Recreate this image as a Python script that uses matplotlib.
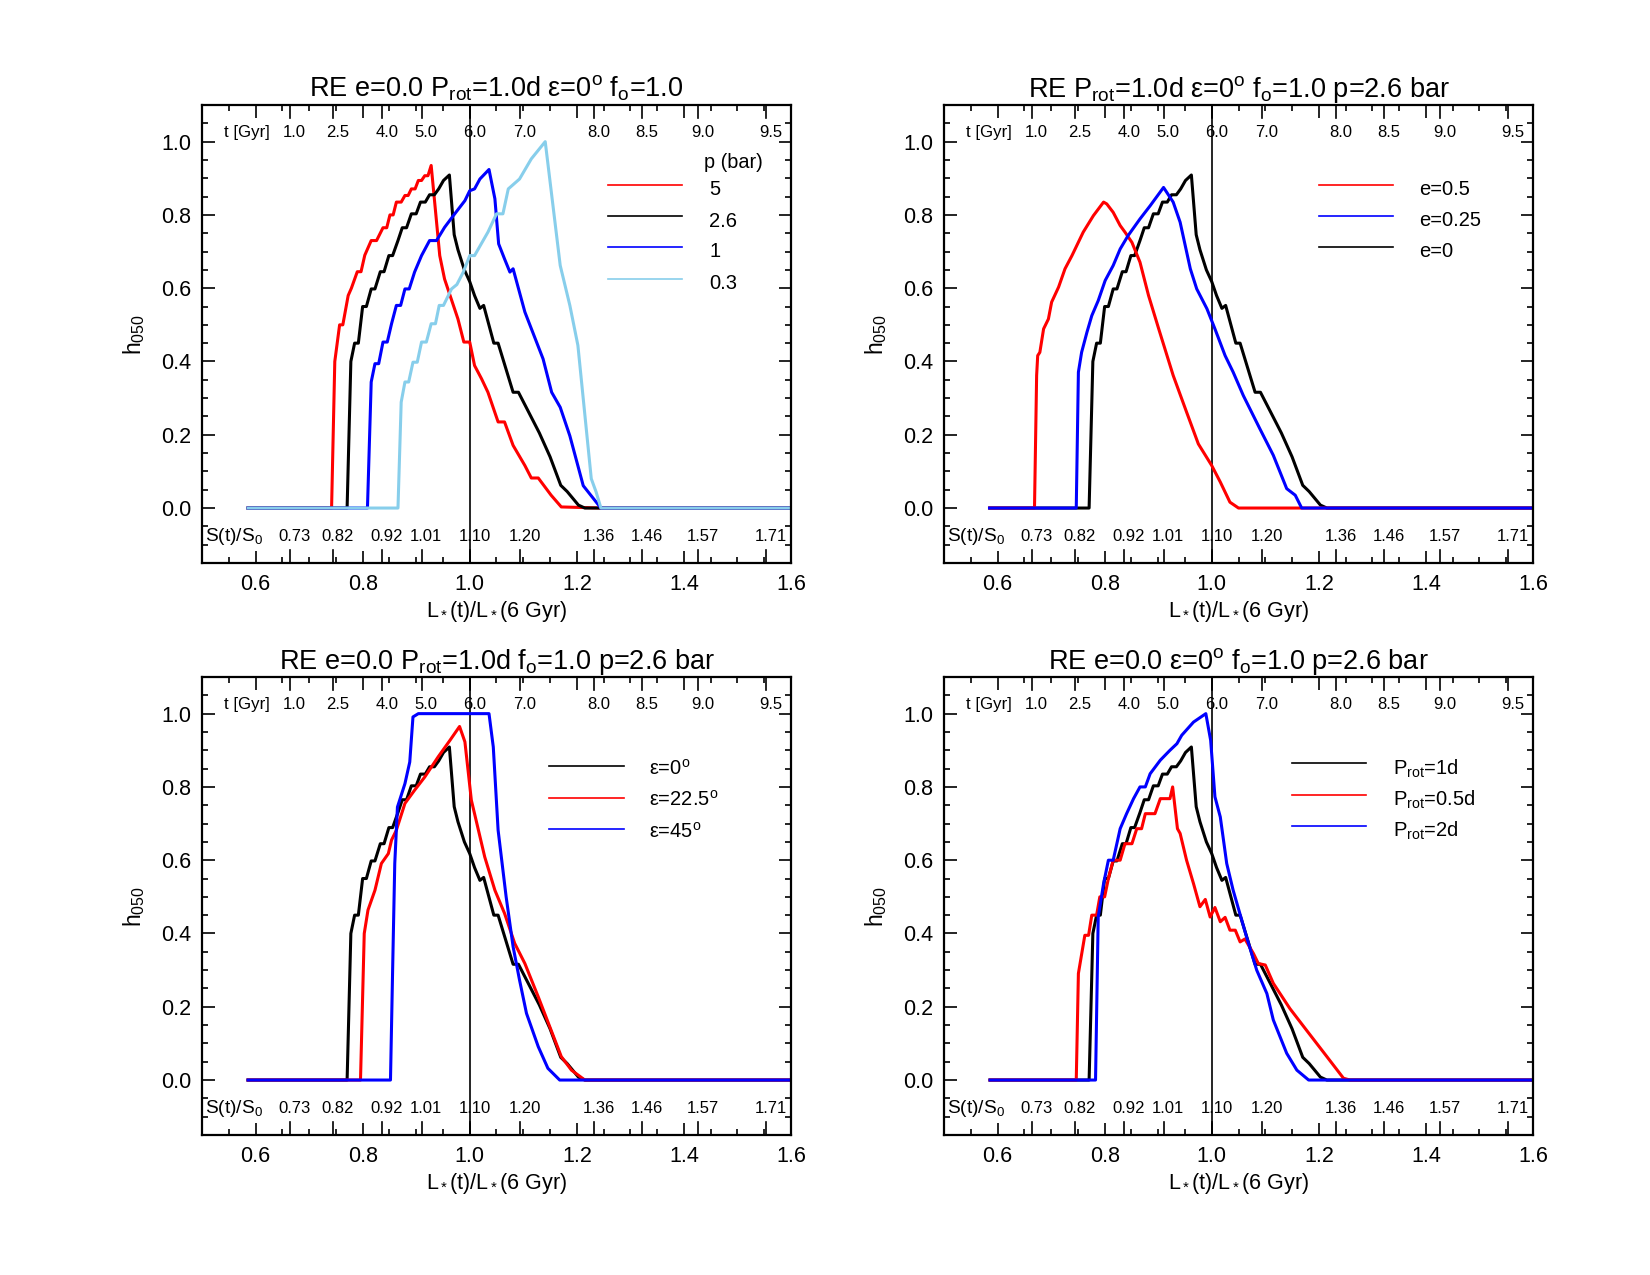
import numpy as np
import matplotlib
matplotlib.use("Agg")
import matplotlib.pyplot as plt
from matplotlib.ticker import MultipleLocator, FormatStrFormatter

plt.rcParams['font.family'] = ['Liberation Sans', 'DejaVu Sans']
plt.rcParams['mathtext.fontset'] = 'custom'
plt.rcParams['mathtext.rm'] = 'Liberation Sans'
plt.rcParams['mathtext.it'] = 'Liberation Sans:italic'
plt.rcParams['mathtext.bf'] = 'Liberation Sans:bold'

# reference case (e=0, Prot=1d, eps=0, fo=1, p=2.6 bar) -- black in every panel
ref_x = [0.586, 0.771, 0.778, 0.785, 0.792, 0.800, 0.807, 0.816, 0.823, 0.833, 0.840, 0.849, 0.856, 0.866,
         0.874, 0.882, 0.891, 0.900, 0.908, 0.917, 0.925, 0.934, 0.942, 0.951, 0.962, 0.971, 0.978, 0.990,
         1.000, 1.009, 1.019, 1.026, 1.045, 1.053, 1.081, 1.091, 1.110, 1.130, 1.150, 1.170, 1.182, 1.203,
         1.215, 1.6]
ref_y = [0, 0, 0.40, 0.45, 0.45, 0.55, 0.55, 0.598, 0.598, 0.645, 0.645, 0.689, 0.689, 0.73,
         0.765, 0.765, 0.803, 0.803, 0.835, 0.835, 0.855, 0.855, 0.871, 0.894, 0.909, 0.746, 0.705, 0.65,
         0.618, 0.58, 0.545, 0.553, 0.45, 0.45, 0.316, 0.316, 0.262, 0.205, 0.14, 0.062, 0.045, 0.008,
         0.0, 0.0]

# panel 1: pressure
p5_x = [0.586, 0.742, 0.748, 0.757, 0.763, 0.773, 0.779, 0.790, 0.797, 0.804, 0.816, 0.826, 0.838, 0.845,
        0.851, 0.857, 0.863, 0.872, 0.879, 0.885, 0.891, 0.898, 0.904, 0.910, 0.916, 0.922, 0.928, 0.944,
        0.953, 0.978, 0.989, 1.000, 1.009, 1.022, 1.034, 1.053, 1.065, 1.081, 1.103, 1.115, 1.128, 1.152,
        1.171, 1.246, 1.6]
p5_y = [0, 0, 0.40, 0.50, 0.50, 0.58, 0.60, 0.645, 0.645, 0.69, 0.73, 0.73, 0.765, 0.765,
        0.80, 0.80, 0.835, 0.835, 0.853, 0.853, 0.871, 0.871, 0.894, 0.894, 0.907, 0.907, 0.935, 0.689,
        0.625, 0.516, 0.453, 0.453, 0.389, 0.353, 0.316, 0.235, 0.235, 0.171, 0.116, 0.082, 0.082, 0.035,
        0.003, 0, 0]
p1_x = [0.586, 0.809, 0.816, 0.823, 0.830, 0.838, 0.846, 0.854, 0.863, 0.871, 0.879, 0.887, 0.897, 0.910,
        0.925, 0.938, 0.953, 0.972, 0.991, 1.000, 1.009, 1.019, 1.036, 1.047, 1.054, 1.065, 1.075, 1.081,
        1.103, 1.137, 1.153, 1.169, 1.187, 1.212, 1.245, 1.6]
p1_y = [0, 0, 0.344, 0.394, 0.394, 0.453, 0.453, 0.503, 0.553, 0.553, 0.598, 0.598, 0.644, 0.689,
        0.73, 0.73, 0.766, 0.803, 0.839, 0.866, 0.871, 0.898, 0.924, 0.844, 0.721, 0.68, 0.644, 0.653,
        0.535, 0.407, 0.316, 0.275, 0.197, 0.061, 0, 0]
p03_x = [0.586, 0.866, 0.872, 0.879, 0.886, 0.894, 0.902, 0.910, 0.919, 0.928, 0.936, 0.943, 0.951, 0.966,
         0.976, 0.988, 1.000, 1.009, 1.025, 1.034, 1.050, 1.062, 1.072, 1.093, 1.115, 1.141, 1.169, 1.187,
         1.202, 1.227, 1.236, 1.245, 1.6]
p03_y = [0, 0, 0.289, 0.344, 0.344, 0.398, 0.398, 0.453, 0.453, 0.503, 0.503, 0.553, 0.553, 0.598,
         0.61, 0.644, 0.689, 0.689, 0.73, 0.753, 0.803, 0.803, 0.871, 0.898, 0.953, 1.0, 0.662, 0.553,
         0.444, 0.08, 0.044, 0, 0]

# panel 2: eccentricity
e05_x = [0.585, 0.669, 0.673, 0.675, 0.679, 0.686, 0.695, 0.701, 0.714, 0.726, 0.739, 0.760, 0.779, 0.798,
         0.804, 0.816, 0.829, 0.838, 0.851, 0.866, 0.882, 0.901, 0.928, 0.953, 0.975, 1.000, 1.016, 1.034,
         1.050, 1.6]
e05_y = [0, 0, 0.362, 0.416, 0.425, 0.489, 0.516, 0.562, 0.603, 0.653, 0.689, 0.753, 0.798, 0.835,
         0.83, 0.807, 0.771, 0.753, 0.725, 0.671, 0.58, 0.489, 0.362, 0.262, 0.175, 0.116, 0.071, 0.016,
         0, 0]
e025_x = [0.585, 0.747, 0.751, 0.757, 0.767, 0.776, 0.788, 0.801, 0.816, 0.829, 0.844, 0.866, 0.885, 0.910,
          0.928, 0.941, 0.960, 0.972, 0.991, 1.006, 1.025, 1.040, 1.059, 1.090, 1.115, 1.140, 1.156, 1.168,
          1.6]
e025_y = [0, 0, 0.371, 0.425, 0.48, 0.525, 0.566, 0.621, 0.662, 0.707, 0.744, 0.789, 0.825, 0.875,
          0.835, 0.78, 0.653, 0.598, 0.544, 0.489, 0.416, 0.371, 0.307, 0.216, 0.144, 0.053, 0.035, 0,
          0]

# panel 3: obliquity
eps22_x = [0.586, 0.796, 0.803, 0.810, 0.823, 0.835, 0.848, 0.854, 0.863, 0.879, 0.897, 0.916, 0.941, 0.963,
           0.981, 0.991, 1.003, 1.009, 1.028, 1.047, 1.065, 1.084, 1.103, 1.128, 1.152, 1.171, 1.190, 1.215,
           1.6]
eps22_y = [0, 0, 0.40, 0.464, 0.518, 0.591, 0.618, 0.655, 0.682, 0.755, 0.791, 0.827, 0.882, 0.927,
           0.965, 0.923, 0.764, 0.727, 0.609, 0.518, 0.455, 0.373, 0.318, 0.227, 0.136, 0.064, 0.027, 0,
           0]
eps45_x = [0.586, 0.852, 0.856, 0.860, 0.865, 0.879, 0.888, 0.894, 0.904, 1.036, 1.044, 1.053, 1.068, 1.081,
           1.093, 1.106, 1.128, 1.146, 1.168, 1.6]
eps45_y = [0, 0, 0.30, 0.591, 0.745, 0.809, 0.868, 0.991, 1.0, 1.0, 0.909, 0.682, 0.5, 0.364,
           0.273, 0.182, 0.091, 0.032, 0, 0]

# panel 4: rotation period
p05d_x = [0.586, 0.747, 0.751, 0.763, 0.770, 0.776, 0.785, 0.791, 0.800, 0.807, 0.816, 0.829, 0.838, 0.851,
          0.860, 0.869, 0.876, 0.894, 0.904, 0.922, 0.927, 0.936, 0.941, 0.953, 0.966, 0.978, 0.988, 0.997,
          1.006, 1.016, 1.025, 1.034, 1.044, 1.053, 1.062, 1.078, 1.087, 1.100, 1.115, 1.146, 1.177, 1.215,
          1.246, 1.258, 1.6]
p05d_y = [0, 0, 0.291, 0.395, 0.395, 0.45, 0.45, 0.5, 0.5, 0.55, 0.6, 0.6, 0.645, 0.645,
          0.686, 0.686, 0.727, 0.727, 0.768, 0.768, 0.8, 0.686, 0.673, 0.6, 0.536, 0.473, 0.493, 0.445,
          0.471, 0.432, 0.444, 0.409, 0.409, 0.377, 0.385, 0.345, 0.318, 0.314, 0.264, 0.195, 0.136, 0.064,
          0.005, 0, 0]
p2d_x = [0.586, 0.783, 0.788, 0.798, 0.807, 0.816, 0.829, 0.841, 0.854, 0.866, 0.876, 0.885, 0.904, 0.922,
         0.935, 0.944, 0.966, 0.989, 0.998, 1.006, 1.016, 1.028, 1.040, 1.065, 1.084, 1.103, 1.115, 1.140,
         1.159, 1.181, 1.6]
p2d_y = [0, 0, 0.445, 0.536, 0.6, 0.6, 0.686, 0.727, 0.768, 0.8, 0.8, 0.836, 0.873, 0.9,
         0.918, 0.941, 0.977, 1.0, 0.927, 0.773, 0.718, 0.591, 0.518, 0.391, 0.3, 0.236, 0.164, 0.073,
         0.027, 0, 0]

# age / insolation scale drawn inside each panel
t_pos = [0.664, 0.745, 0.836, 0.910, 1.0, 1.094, 1.232, 1.321, 1.427, 1.554]
t_labels = ['1.0', '2.5', '4.0', '5.0', '6.0', '7.0', '8.0', '8.5', '9.0', '9.5']
s_labels = ['0.73', '0.82', '0.92', '1.01', '1.10', '1.20', '1.36', '1.46', '1.57', '1.71']

RED = '#ff0000'
BLUE = '#0000ff'
LBLUE = '#87ceeb'

titles = [r'RE e=0.0 $\mathregular{P_{rot}}$=1.0d ε=0$\mathregular{^o}$ $\mathregular{f_o}$=1.0',
          r'RE $\mathregular{P_{rot}}$=1.0d ε=0$\mathregular{^o}$ $\mathregular{f_o}$=1.0 p=2.6 bar',
          r'RE e=0.0 $\mathregular{P_{rot}}$=1.0d $\mathregular{f_o}$=1.0 p=2.6 bar',
          r'RE e=0.0 ε=0$\mathregular{^o}$ $\mathregular{f_o}$=1.0 p=2.6 bar']

fig = plt.figure(figsize=(16.5, 12.75), dpi=100)
W, H = 589 / 1650, 458 / 1275
ax1 = fig.add_axes([202 / 1650, 1 - 563 / 1275, W, H])
ax2 = fig.add_axes([944 / 1650, 1 - 563 / 1275, W, H])
ax3 = fig.add_axes([202 / 1650, 1 - 1135 / 1275, W, H])
ax4 = fig.add_axes([944 / 1650, 1 - 1135 / 1275, W, H])


def setup(ax, title):
    ax.set_xlim(0.5, 1.6)
    ax.set_ylim(-0.15, 1.1)
    ax.xaxis.set_major_locator(MultipleLocator(0.2))
    ax.xaxis.set_minor_locator(MultipleLocator(0.05))
    ax.yaxis.set_major_locator(MultipleLocator(0.2))
    ax.yaxis.set_minor_locator(MultipleLocator(0.05))
    ax.xaxis.set_major_formatter(FormatStrFormatter('%.1f'))
    ax.yaxis.set_major_formatter(FormatStrFormatter('%.1f'))
    ax.tick_params(which='both', direction='in', top=True, right=True, width=1.2, labelsize=15.5)
    ax.tick_params(which='major', length=9, pad=8)
    ax.tick_params(which='minor', length=4.5)
    for sp in ax.spines.values():
        sp.set_linewidth(1.6)
    ax.set_title(title, fontsize=19.5, pad=6)
    ax.set_xlabel(r'$\mathregular{L_*}$(t)/$\mathregular{L_*}$(6 Gyr)', fontsize=15.5, labelpad=3)
    ax.set_ylabel(r'$\mathregular{h_{050}}$', fontsize=16.5, labelpad=10)
    ax.axvline(1.0, color='k', lw=1.2, zorder=1)
    trans = ax.get_xaxis_transform()
    for xt, tl, sl in zip(t_pos, t_labels, s_labels):
        ax.plot([xt, xt], [1, 0.972], transform=trans, color='k', lw=1.2, clip_on=False)
        ax.plot([xt, xt], [0, 0.028], transform=trans, color='k', lw=1.2, clip_on=False)
        ax.text(xt + 0.009, 1.026, tl, ha='center', va='center', fontsize=12)
        ax.text(xt + 0.009, -0.079, sl, ha='center', va='center', fontsize=12)
    ax.text(0.583, 1.026, 't [Gyr]', ha='center', va='center', fontsize=12.2)
    ax.text(0.559, -0.079, r'S(t)/$\mathregular{S_0}$', ha='center', va='center', fontsize=13.8)


def legend(ax, x0, x1, xt, ys, labels, colors, dy=0.013):
    for y, lab, c in zip(ys, labels, colors):
        ax.plot([x0, x1], [y, y], color=c, lw=1.2)
        ax.text(xt, y - dy, lab, ha='left', va='center', fontsize=14.5)


for ax, t in zip([ax1, ax2, ax3, ax4], titles):
    setup(ax, t)

lw = 2.2
# panel 1
ax1.plot(p5_x, p5_y, color=RED, lw=lw)
ax1.plot(ref_x, ref_y, color='k', lw=lw)
ax1.plot(p1_x, p1_y, color=BLUE, lw=lw)
ax1.plot(p03_x, p03_y, color=LBLUE, lw=lw)
ax1.text(1.4916, 0.942, 'p (bar)', ha='center', va='center', fontsize=14.3)
legend(ax1, 1.259, 1.397, 1.447, [0.882, 0.796, 0.712, 0.625],
       ['5', '2.6', '1', '0.3'], [RED, 'k', BLUE, LBLUE])

# panel 2
ax2.plot(ref_x, ref_y, color='k', lw=lw)
ax2.plot(e05_x, e05_y, color=RED, lw=lw)
ax2.plot(e025_x, e025_y, color=BLUE, lw=lw)
legend(ax2, 1.201, 1.338, 1.388, [0.883, 0.797, 0.712],
       ['e=0.5', 'e=0.25', 'e=0'], [RED, BLUE, 'k'])

# panel 3
ax3.plot(ref_x, ref_y, color='k', lw=lw)
ax3.plot(eps22_x, eps22_y, color=RED, lw=lw)
ax3.plot(eps45_x, eps45_y, color=BLUE, lw=lw)
legend(ax3, 1.148, 1.288, 1.335, [0.857, 0.771, 0.685],
       [r'ε=0$\mathregular{^o}$', r'ε=22.5$\mathregular{^o}$', r'ε=45$\mathregular{^o}$'],
       ['k', RED, BLUE], dy=0.006)

# panel 4
ax4.plot(ref_x, ref_y, color='k', lw=lw)
ax4.plot(p05d_x, p05d_y, color=RED, lw=lw)
ax4.plot(p2d_x, p2d_y, color=BLUE, lw=lw)
legend(ax4, 1.150, 1.288, 1.339, [0.865, 0.779, 0.694],
       [r'$\mathregular{P_{rot}}$=1d', r'$\mathregular{P_{rot}}$=0.5d', r'$\mathregular{P_{rot}}$=2d'],
       ['k', RED, BLUE], dy=0.015)

fig.savefig('out.png', dpi=100)
